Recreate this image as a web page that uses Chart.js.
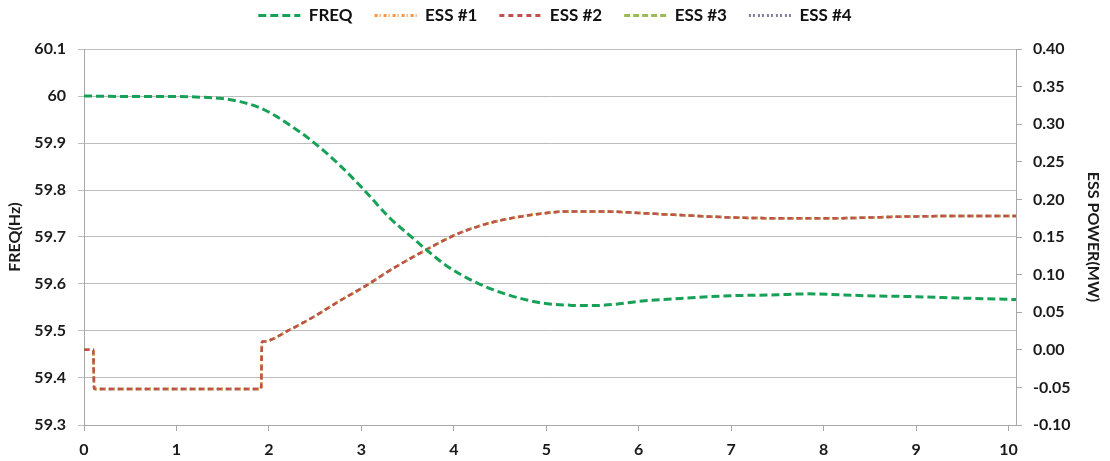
<!DOCTYPE html>
<html>
<head>
<meta charset="utf-8">
<script src="https://cdn.jsdelivr.net/npm/chart.js@4.4.1/dist/chart.umd.min.js"></script>
<style>
  html, body { margin: 0; padding: 0; background: #fff; }
  #chart { display: block; }
</style>
</head>
<body>
<canvas id="chart" width="1110" height="461"></canvas>
<script>
// axis ticks
const xTicks = [0, 1, 2, 3, 4, 5, 6, 7, 8, 9, 10];
const freqTicks = [59.3, 59.4, 59.5, 59.6, 59.7, 59.8, 59.9, 60.0, 60.1];
const powerTicks = [-0.10, -0.05, 0.00, 0.05, 0.10, 0.15, 0.20, 0.25, 0.30, 0.35, 0.40];

// frequency (Hz) over time (s)
const freqTime = [0, 0.5, 1.0, 1.2, 1.47, 1.69, 1.9, 2.05, 2.25, 2.48, 2.77, 3.02, 3.31, 3.56, 3.75, 3.92, 4.21, 4.57, 4.94, 5.25, 5.5, 5.75, 6.0, 6.5, 7.0, 7.5, 7.82, 8.47, 9.0, 9.5, 10.08];
const freqValues = [60.0, 59.999, 59.999, 59.998, 59.995, 59.988, 59.975, 59.960, 59.935, 59.902, 59.852, 59.802, 59.740, 59.697, 59.665, 59.639, 59.606, 59.578, 59.560, 59.555, 59.554, 59.557, 59.563, 59.570, 59.575, 59.577, 59.579, 59.575, 59.573, 59.570, 59.567];

// ESS power (MW) over time (s), four units nearly identical
const essTime = [0, 0.10, 0.11, 0.5, 1.0, 1.5, 1.915, 1.925, 1.94, 2.23, 2.5, 2.75, 3.06, 3.3, 3.67, 4.0, 4.21, 4.5, 4.94, 5.22, 5.58, 6.0, 6.31, 7.0, 7.5, 8.11, 8.83, 9.5, 10.08];
const ess1 = [0.000, 0.000, -0.052, -0.052, -0.052, -0.052, -0.052, 0.010, 0.011, 0.027, 0.045, 0.064, 0.086, 0.105, 0.131, 0.152, 0.162, 0.172, 0.181, 0.184, 0.184, 0.182, 0.180, 0.176, 0.175, 0.175, 0.177, 0.178, 0.178];
const ess2 = [0.000, 0.000, -0.052, -0.052, -0.052, -0.052, -0.052, 0.010, 0.011, 0.027, 0.045, 0.064, 0.086, 0.105, 0.131, 0.152, 0.162, 0.172, 0.181, 0.184, 0.184, 0.182, 0.180, 0.176, 0.175, 0.175, 0.177, 0.178, 0.178];
const ess3 = [0.000, 0.000, -0.052, -0.052, -0.052, -0.052, -0.052, 0.010, 0.011, 0.027, 0.045, 0.064, 0.086, 0.105, 0.131, 0.152, 0.162, 0.172, 0.181, 0.184, 0.184, 0.182, 0.180, 0.176, 0.175, 0.175, 0.177, 0.178, 0.178];
const ess4 = [0.000, 0.000, -0.052, -0.052, -0.052, -0.052, -0.052, 0.010, 0.011, 0.027, 0.045, 0.064, 0.086, 0.105, 0.131, 0.152, 0.162, 0.172, 0.181, 0.184, 0.184, 0.182, 0.180, 0.176, 0.175, 0.175, 0.177, 0.178, 0.178];

const toPoints = (xs, ys) => xs.map((x, i) => ({ x: x, y: ys[i] }));

Chart.defaults.font.family = "Lato, 'Open Sans', sans-serif";
Chart.defaults.font.size = 16;
Chart.defaults.font.weight = "bold";
Chart.defaults.color = "#1a1a1a";

const gridColor = "#bdbdbd";
const axisColor = "#a8a8a8";

// keep the legend band a fixed height so the plot starts where the original does
const legendBand = {
  id: "legendBand",
  afterInit(chart) {
    const lg = chart.legend;
    const fit = lg.fit;
    lg.fit = function () {
      fit.call(this);
      this.height = 64;
    };
  },
};

const essLine = (label, data, color, dash, order) => ({
  label: label,
  data: toPoints(essTime, data),
  yAxisID: "y2",
  borderColor: color,
  backgroundColor: color,
  borderWidth: 2.5,
  borderDash: dash,
  pointRadius: 0,
  cubicInterpolationMode: "monotone",
  fill: false,
  order: order,
});

new Chart(document.getElementById("chart"), {
  type: "line",
  data: {
    datasets: [
      {
        label: "FREQ",
        data: toPoints(freqTime, freqValues),
        yAxisID: "y",
        borderColor: "#17a157",
        backgroundColor: "#17a157",
        borderWidth: 3,
        borderDash: [8, 4],
        pointRadius: 0,
        cubicInterpolationMode: "monotone",
        fill: false,
        order: 0,
      },
      essLine("ESS #1", ess1, "#f79646", [3, 2, 1, 3], 2),
      essLine("ESS #2", ess2, "#c0504d", [5, 4], 1),
      essLine("ESS #3", ess3, "#9bbb59", [6, 3], 3),
      essLine("ESS #4", ess4, "#7f7f9f", [2, 2, 2, 3], 4),
    ],
  },
  options: {
    responsive: false,
    animation: false,
    layout: { padding: { top: -15, left: 0, right: 0, bottom: 0 } },
    plugins: {
      legend: {
        position: "top",
        labels: {
          usePointStyle: true,
          pointStyle: "line",
          pointStyleWidth: 42,
          padding: 22,
          color: "#111",
          font: { size: 17, weight: "bold" },
          sort: (a, b) => a.datasetIndex - b.datasetIndex,
          generateLabels: (chart) =>
            Chart.defaults.plugins.legend.labels.generateLabels(chart).map((item) => {
              const ds = chart.data.datasets[item.datasetIndex];
              item.lineDash = ds.borderDash;
              item.lineWidth = 3;
              item.strokeStyle = ds.borderColor;
              item.pointStyle = "line";
              return item;
            }),
        },
      },
      tooltip: { enabled: false },
    },
    scales: {
      x: {
        type: "linear",
        min: 0,
        max: 10.08,
        afterBuildTicks: (axis) => {
          axis.ticks = xTicks.map((v) => ({ value: v }));
        },
        afterFit: (axis) => {
          axis.height = 36;
        },
        ticks: { padding: 9, maxRotation: 0, callback: (v) => String(v) },
        grid: { drawOnChartArea: false, drawTicks: true, tickLength: 6, color: axisColor },
        border: { display: true, color: axisColor, width: 1 },
      },
      y: {
        type: "linear",
        position: "left",
        min: 59.3,
        max: 60.1,
        afterBuildTicks: (axis) => {
          axis.ticks = freqTicks.map((v) => ({ value: v }));
        },
        afterFit: (axis) => {
          axis.width = 84;
        },
        ticks: { padding: 12, callback: (v) => String(+v.toFixed(1)) },
        grid: { color: gridColor, drawTicks: true, tickLength: 6 },
        border: { display: true, color: axisColor, width: 1 },
        title: {
          display: true,
          text: "FREQ(Hz)",
          font: { size: 16, weight: "bold" },
          padding: { top: 5, bottom: 0 },
        },
      },
      y2: {
        type: "linear",
        position: "right",
        min: -0.10,
        max: 0.40,
        afterBuildTicks: (axis) => {
          axis.ticks = powerTicks.map((v) => ({ value: v }));
        },
        afterFit: (axis) => {
          axis.width = 94;
        },
        ticks: { padding: 11, callback: (v) => v.toFixed(2) },
        grid: { drawOnChartArea: false, drawTicks: true, tickLength: 6, color: axisColor },
        border: { display: true, color: axisColor, width: 1 },
        title: {
          display: true,
          text: "ESS POWER(MW)",
          font: { size: 16, weight: "bold" },
          padding: { top: 7, bottom: 0 },
        },
      },
    },
  },
  plugins: [legendBand],
});
</script>
</body>
</html>
